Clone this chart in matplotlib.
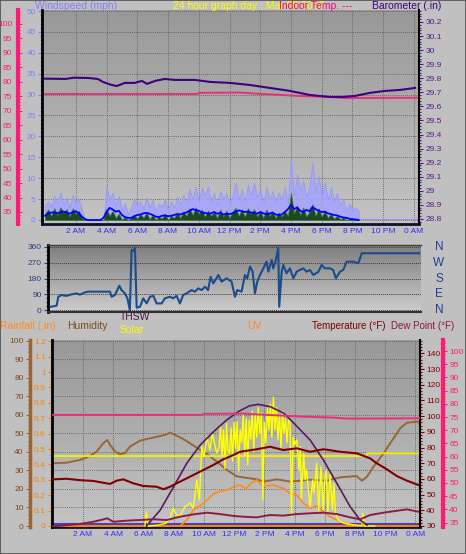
import numpy as np
import matplotlib
matplotlib.use('Agg')
import matplotlib.pyplot as plt
from matplotlib.colors import LinearSegmentedColormap
from matplotlib.ticker import MultipleLocator, FixedLocator, FuncFormatter
import matplotlib.patches as mpatches

plt.rcParams.update({
    'font.family': ['Liberation Sans', 'DejaVu Sans'],
    'font.size': 6,
    'figure.facecolor': '#c0c0c0',
})

W_PX, H_PX = 466, 554

hour_ticks = [2, 4, 6, 8, 10, 12, 14, 16, 18, 20, 22, 24]
hour_labels = ['2 AM', '4 AM', '6 AM', '8 AM', '10 AM', '12 PM',
               '2 PM', '4 PM', '6 PM', '8 PM', '10 PM', '0 AM']

# ---- top panel: wind (mph), sampled every 12 min up to 20:24 ----
wind_t = np.round(np.arange(0, 20.5, 0.2), 1)
wind_hi = [3.5, 4.5, 3.2, 5.8, 4.0, 6.7, 3.8, 5.5, 3.0, 6.0, 4.2, 5.0, 2.5,
           0, 0, 0, 0, 0, 0, 0,
           7.8, 5.0, 6.5, 3.5, 5.8, 2.5, 4.0, 1.5, 3.0, 5.2, 3.5,
           4.5, 2.8, 5.5, 3.0, 4.8, 2.2, 4.0, 3.2, 5.0, 2.5, 4.5, 3.0, 5.5, 3.8, 6.0,
           4.0, 7.5, 5.0, 8.0, 4.5, 7.8, 6.0, 8.0, 4.5, 6.5, 3.5, 7.0, 5.0, 6.5, 4.0,
           6.0, 9.0, 5.0, 7.5, 4.5, 8.5, 6.0, 9.0, 5.5, 7.5, 4.0, 8.0, 5.0, 7.0, 4.5,
           6.5, 5.0, 8.0, 4.0, 14.6,
           6.0, 11.0, 7.0, 9.5, 5.5, 8.0, 13.6, 7.0, 10.5, 6.0, 9.0, 5.0, 8.0,
           4.5, 6.5, 3.5, 5.0, 2.5, 4.0, 2.5, 3.0, 2.2]
wind_avg = [1.0, 1.5, 1.8, 1.8, 1.6, 1.9, 2.0, 1.8, 1.5, 1.9, 2.1, 1.6, 0.8,
            0.2, 0, 0, 0, 0, 0, 0.5,
            2.0, 2.9, 2.5, 2.0, 2.2, 1.2, 0.7, 0.5, 0.5, 0.9, 1.2,
            1.3, 1.6, 1.7, 1.5, 1.2, 0.8, 0.7, 1.0, 1.1, 0.9, 1.0, 1.2, 1.4, 1.3, 1.6,
            1.8, 2.2, 2.6, 2.4, 2.2, 1.8, 1.7, 1.5, 1.6, 1.9, 1.5, 1.7, 1.3, 1.5, 1.4,
            1.6, 2.0, 2.3, 2.1, 1.9, 2.0, 1.8, 1.7, 1.5, 1.9, 1.6, 1.4, 1.5, 1.8, 1.3,
            1.2, 1.3, 1.9, 2.6, 3.6,
            2.6, 3.0, 2.2, 1.9, 2.4, 2.1, 3.1, 2.6, 2.2, 1.9, 2.0, 1.6, 1.4,
            1.2, 1.1, 0.8, 0.6, 0.5, 0.3, 0.2, 0.1, 0.0]
wind_now = [1.5, 2.5, 1.0, 2.8, 1.2, 3.0, 1.8, 2.6, 0.8, 2.8, 1.5, 2.2, 0.5,
            0, 0, 0, 0, 0, 0, 0,
            2.6, 1.0, 2.2, 0.5, 1.5, 0.0, 0.8, 0.0, 0.5, 1.2, 0.3,
            1.5, 0.5, 1.8, 0.2, 1.2, 0.0, 0.8, 0.3, 1.5, 0.0, 1.0, 0.5, 1.8, 0.5, 2.0,
            1.0, 2.8, 1.2, 3.0, 1.5, 2.5, 0.8, 2.2, 1.0, 2.0, 0.5, 2.5, 0.8, 2.2, 0.5,
            2.0, 2.9, 1.0, 2.5, 0.8, 2.8, 1.5, 2.6, 0.8, 2.2, 0.5, 2.5, 1.0, 2.0, 0.5,
            1.8, 0.8, 2.2, 1.0, 6.5,
            1.5, 3.5, 1.2, 3.0, 0.8, 2.0, 3.8, 1.0, 2.8, 0.8, 2.2, 0.5, 1.5,
            0.3, 1.0, 0.2, 0.5, 0.0, 0.2, 0, 0, 0]
calm_t = [20.4, 24.3]
calm_hi = [0.3, 0.3]

baro_t = [0, 1.35, 1.87, 2.78, 3.43, 3.76, 4.34, 4.67, 5.19, 5.84, 6.30, 6.63, 7.16,
          7.79, 8.44, 9.75, 10.72, 12.02, 13.33, 14.63, 15.93, 17.23, 18.53, 19.38,
          20.16, 21.14, 22.12, 23.09, 24.07]
baro = [29.797, 29.795, 29.804, 29.802, 29.795, 29.774, 29.752, 29.745, 29.767,
        29.767, 29.781, 29.760, 29.781, 29.795, 29.788, 29.788, 29.774, 29.767,
        29.752, 29.731, 29.710, 29.681, 29.667, 29.667, 29.674, 29.696, 29.710,
        29.717, 29.731]

indoor_t = [0, 9.9, 10.0, 12.7, 13.5, 15.3, 16.6, 18.5, 19.5, 24.3]
indoor_temp = [75.8, 75.8, 76.2, 76.3, 76.0, 75.5, 75.1, 74.8, 74.4, 74.5]

# ---- middle panel: wind direction (deg) ----
dir_t = [0.37, 0.74, 0.85, 1.07, 1.39, 1.72, 2.04, 2.26, 2.58, 2.8, 4.21, 4.32, 4.54,
         4.82, 4.97, 5.19, 5.35, 5.51, 5.62, 5.75, 5.84, 5.95, 6.17, 6.38, 6.6, 6.82,
         7.04, 7.25, 7.58, 7.79, 8.12, 8.33, 8.55, 8.77, 8.98, 9.2, 9.53, 9.75, 9.96,
         10.18, 10.4, 10.6, 10.77, 10.94, 11.27, 11.48, 11.81, 12.13, 12.35, 12.5,
         12.78, 13.0, 13.15, 13.33, 13.5, 13.65, 13.8, 13.98, 14.2, 14.41, 14.52,
         14.74, 14.84, 15.01, 15.17, 15.23, 15.39, 15.5, 15.71, 15.93, 16.15, 16.37,
         16.58, 16.8, 17.01, 17.23, 17.45, 17.78, 18.0, 18.2, 18.53, 18.74, 18.92,
         19.19, 19.4, 19.62, 20.06, 20.38, 20.6, 24.35]
dir_deg = [19, 25, 76, 86, 81, 90, 95, 88, 101, 105, 105, 76, 86,
           139, 114, 95, 67, 0, 343, 337, 356, 13, 19, 67, 38, 76,
           81, 38, 38, 67, 76, 67, 81, 38, 86, 95, 114, 105, 124,
           114, 133, 114, 190, 152, 200, 162, 181, 162, 76, 114,
           105, 200, 181, 248, 219, 95, 162, 200, 238, 276, 219,
           286, 238, 286, 356, 19, 219, 257, 210, 238, 181, 219,
           229, 238, 219, 229, 200, 219, 257, 238, 238, 229, 181,
           219, 229, 276, 276, 267, 324, 324]
dir_ticks = [0, 90, 180, 270, 360]
compass = ['N', 'W', 'S', 'E', 'N']

# ---- bottom panel ----
hum_t = [0, 0.92, 1.8, 2.46, 2.9, 3.34, 3.61, 3.79, 4.12, 4.45, 4.78, 5.11, 5.77,
         6.44, 7.1, 7.54, 7.76, 8.09, 8.54, 9.09, 9.75, 10.3, 10.85, 11.52, 12.18,
         13.5, 13.94, 14.83, 15.7, 17.03, 18.14, 19.02, 20.1, 20.46, 20.79, 21.22,
         21.89, 22.55, 22.99, 23.43, 24.1, 24.3]
humidity = [33.9, 34.2, 35.7, 37.8, 40.2, 44.7, 46.5, 43.8, 40.2, 38.8, 39.5, 42.9,
            46.1, 47.4, 48.6, 49.5, 50.5, 49.2, 47.4, 44.7, 41.1, 38.4, 34.8, 30.3,
            26.8, 25.2, 24.0, 25.2, 24.0, 25.0, 24.5, 26.3, 27.0, 24.5, 26.6, 32.0,
            39.3, 47.4, 52.8, 55.8, 56.4, 55.8]

in_hum_t = [0, 20.75, 20.8, 24.3]
in_humidity = [37.8, 37.8, 39.3, 39.3]

temp_t = [0, 0.92, 1.8, 2.68, 3.79, 4.23, 4.67, 5.33, 5.99, 6.88, 7.32, 7.76, 8.2,
          8.87, 9.53, 9.97, 10.63, 11.29, 11.95, 12.4, 13.5, 14.38, 15.26, 16.15,
          17.03, 17.91, 19.02, 20.12, 21.0, 21.45, 22.11, 22.77, 23.43, 24.2]
temperature = [59.7, 60.1, 59.2, 58.7, 56.8, 58.9, 59.7, 57.2, 55.5, 55.0, 53.4,
               55.0, 57.2, 60.4, 63.6, 65.7, 68.9, 72.5, 75.2, 77.3, 78.9, 80.5,
               78.4, 79.5, 77.3, 78.9, 77.3, 76.3, 73.1, 69.9, 66.1, 61.8, 58.9, 56.1]

thsw_t = [6.2, 7.1, 8.0, 8.87, 9.75, 10.63, 11.5, 12.3, 13.0, 13.6, 14.4, 15.26,
          15.7, 16.15, 17.03, 17.91, 18.8, 19.68, 20.34, 20.79]
thsw = [30, 40, 55, 70, 81.5, 90, 97.5, 103, 106.5, 107.5, 106, 102, 98, 93.5,
        84.8, 72, 57.2, 42.3, 33.8, 30.6]

dew_t = [0, 0.9, 1.8, 2.68, 3.34, 3.61, 4.0, 4.89, 5.77, 6.66, 7.54, 8.42, 9.3, 10.2,
         11.07, 11.95, 12.62, 13.5, 14.38, 15.26, 16.15, 17.03, 17.91, 18.8, 19.68,
         20.34, 21.0, 21.89, 22.77, 23.43, 24.2]
dew_point = [29.8, 30.5, 31.3, 32.7, 34.2, 34.9, 32.7, 33.4, 33.8, 34.3, 33.8, 35.9,
             37.4, 38.5, 37.6, 36.4, 35.9, 35.5, 37.0, 36.6, 37.6, 38.1, 38.5, 37.6,
             35.5, 34.2, 37.0, 38.5, 39.7, 40.6, 39.1]

solar_t = [6.1, 6.2, 6.3, 7.0, 7.5, 7.76, 7.98, 8.1, 8.37, 8.75, 9.09, 9.3, 9.53, 9.7,
           9.86, 10.0, 10.2, 10.4, 10.55, 10.85,
           11.0, 11.1, 11.2, 11.3, 11.4, 11.5, 11.6, 11.7, 11.8, 11.9, 12.0, 12.1, 12.2,
           12.3, 12.4, 12.5, 12.6, 12.7, 12.8, 12.9, 13.0, 13.1, 13.2, 13.3, 13.4, 13.5,
           13.6, 13.7, 13.8, 13.9, 14.0, 14.1, 14.2, 14.3, 14.4, 14.5, 14.6, 14.7, 14.8,
           14.9, 15.0, 15.1, 15.2, 15.3, 15.4, 15.5, 15.6, 15.7, 15.8,
           15.9, 16.0, 16.15, 16.3, 16.37, 16.45, 16.6, 16.7, 16.8, 16.9, 17.03, 17.2,
           17.3, 17.46, 17.6, 17.75, 17.9, 18.0, 18.1, 18.2, 18.35, 18.5, 18.6, 18.7,
           18.9, 19.25, 19.9, 20.45, 20.52, 20.6, 21.3]
solar = [0, 76, 0, 5, 15, 43, 97, 70, 50, 104, 124, 97, 249, 140,
         429, 375, 483, 410, 500, 395,
         420, 540, 380, 520, 310, 555, 400, 393, 530, 350, 560, 420, 564,
         300, 520, 450, 600, 380, 580, 330, 570, 470, 620, 400, 600, 480,
         640, 500, 610, 140, 560, 450, 636, 520, 660, 480, 696, 520, 640,
         465, 600, 420, 620, 500, 580, 450, 573, 560, 50,
         480, 440, 465, 300, 429, 150, 393, 250, 303, 200, 104, 249,
         180, 339, 80, 320, 90, 250, 303, 69, 280, 90, 230, 69,
         32, 15, 5, 2, 69, 0, 0]

uv_t = [8.42, 8.87, 9.3, 9.75, 10.2, 10.63, 11.07, 11.52, 11.95, 12.4, 12.8, 13.1,
        13.5, 13.9, 14.6, 15.26, 15.7, 16.15, 16.6, 17.03, 17.45, 17.91, 18.36, 18.8,
        19.35, 20.0, 20.5]
uv = [0, 0.39, 1.04, 1.3, 1.69, 2.1, 2.25, 2.34, 2.55, 2.66, 2.4, 2.77, 2.99, 2.6,
      2.66, 2.45, 2.12, 2.0, 1.47, 1.15, 1.3, 0.93, 0.6, 0.39, 0.17, 0.06, 0]

rain_t = [0, 24.3]
rainfall = [0, 0]
rain_rate = [0.015, 0.015]


def place(x0, y0, x1, y1):
    return [x0 / W_PX, 1 - y1 / H_PX, (x1 - x0) / W_PX, (y1 - y0) / H_PX]


def shade(ax, top, bottom):
    cm = LinearSegmentedColormap.from_list('shade', [top, bottom])
    ax.imshow(np.linspace(0, 1, 128).reshape(-1, 1), cmap=cm, aspect='auto',
              extent=[0, 1, 0, 1], transform=ax.transAxes, zorder=-10,
              interpolation='bilinear')


def spines(ax, **kw):
    for side in ['left', 'right', 'top', 'bottom']:
        if side in kw:
            color, lw = kw[side]
            ax.spines[side].set_visible(True)
            ax.spines[side].set_color(color)
            ax.spines[side].set_linewidth(lw)
        else:
            ax.spines[side].set_visible(False)


def yticks(ax, major, minor, color, labelcolor=None, direction='out', pad=1.5):
    ax.yaxis.set_major_locator(FixedLocator(major))
    ax.yaxis.set_minor_locator(MultipleLocator(minor))
    ax.yaxis.set_major_formatter(FuncFormatter(lambda v, p: '%g' % round(v, 2)))
    ax.tick_params(axis='y', which='both', color=color, direction=direction,
                   labelcolor=labelcolor or color, labelsize=6, pad=pad, width=0.8)
    ax.tick_params(axis='y', which='major', length=3)
    ax.tick_params(axis='y', which='minor', length=1.5)


GRID = dict(color='#555555', ls=(0, (1, 1.5)), lw=0.6)

fig = plt.figure(figsize=(4.66, 5.54), dpi=100)

# ================= top panel =================
ax1 = fig.add_axes(place(42, 10, 419, 224))
shade(ax1, '#989898', '#c4c4c4')
ax1.fill_between(wind_t, wind_hi, color='#a3a3ff', edgecolor='#9090ff', lw=0.5,
                 alpha=0.85, zorder=2)
ax1.plot(calm_t, calm_hi, color='#9090ff', lw=0.8, zorder=2)
ax1.fill_between(wind_t, wind_now, color='#1c4a1c', edgecolor='#3a7a3a', lw=0.5, zorder=3)
ax1.plot(wind_t, wind_avg, color='#0000ff', lw=1.3, zorder=4)
ax1.set_xlim(-0.2, 24.33)
ax1.set_ylim(-0.96, 50.24)
ax1.set_xticks(hour_ticks)
ax1.set_xticklabels(hour_labels)
ax1.tick_params(axis='x', length=0, pad=3, labelcolor='#3030ff', labelsize=6)
yticks(ax1, list(range(0, 51, 5)), 1, '#8080ff')
ax1.grid(True, **GRID)
spines(ax1, left=('#000000', 2), bottom=('#101030', 2))

ax1t = ax1.twinx()
ax1t.plot(indoor_t, indoor_temp, color='#e8307a', lw=1.4)
ax1t.set_ylim(30.85, 104.84)
spines(ax1t, left=('#ff1a75', 3))
ax1t.spines['left'].set_position(('axes', -0.064))
ax1t.yaxis.set_ticks_position('left')
yticks(ax1t, list(range(35, 106, 5)), 1, '#ff1a75', direction='in', pad=4)

ax1b = ax1.twinx()
ax1b.plot(baro_t, baro, color='#400080', lw=1.5)
ax1b.set_ylim(28.764, 30.285)
spines(ax1b, right=('#000000', 1.5))
yticks(ax1b, list(np.round(np.arange(28.8, 30.25, 0.1), 1)), 0.02, '#5a1a8a')

# ================= middle panel =================
ax2 = fig.add_axes(place(48, 245, 421, 312))
shade(ax2, '#7e7e7e', '#cdcdcd')
ax2.plot(dir_t, dir_deg, color='#1a4c8c', lw=1.5)
ax2.set_xlim(0.18, 24.46)
ax2.set_ylim(-11, 371)
ax2.set_xticks([])
yticks(ax2, dir_ticks, 22.5, '#2a3f7a')
ax2.grid(True, axis='y', color='#4a3a3a', ls=(0, (1, 1)), lw=0.7)
spines(ax2, left=('#000000', 2), bottom=('#303030', 1.5), top=('#404040', 1))
for lab, d in zip(compass, dir_ticks[::-1]):
    ax2.text(1.048, d, lab, transform=ax2.get_yaxis_transform(), color='#1f3f8f',
             fontsize=8.5, ha='center', va='center')

# ================= bottom panel =================
ax3 = fig.add_axes(place(52, 340, 420, 527))
shade(ax3, '#989898', '#c4c4c4')
ax3.plot(hum_t, humidity, color='#996633', lw=1.4, zorder=3)
ax3.plot(in_hum_t, in_humidity, color='#f2f200', lw=1.3, zorder=3)
ax3.set_xlim(-0.05, 24.3)
ax3.set_ylim(-0.54, 100.5)
ax3.set_xticks(hour_ticks)
ax3.set_xticklabels(hour_labels)
ax3.tick_params(axis='x', length=0, pad=3, labelcolor='#3030ff', labelsize=6)
yticks(ax3, list(range(0, 101, 10)), 2, '#996633', labelcolor='#7a4a1a')
ax3.grid(True, **GRID)
spines(ax3, left=('#996633', 2.5), bottom=('#101030', 2))
ax3.spines['left'].set_position(('axes', -0.06))

ax3r = ax3.twinx()
ax3r.plot(rain_t, rain_rate, color='#4040c0', lw=1.5)
ax3r.plot(rain_t, rainfall, color='#ff8000', lw=1.5)
ax3r.set_ylim(-0.0065, 1.208)
spines(ax3r, left=('#000000', 2))
ax3r.yaxis.set_ticks_position('left')
yticks(ax3r, list(np.round(np.arange(0, 1.25, 0.1), 1)), 0.02, '#ff8000')

ax3u = ax3.twinx()
ax3u.plot(uv_t, uv, color='#ff8c1a', lw=1.2)
ax3u.set_ylim(-0.065, 12.08)
spines(ax3u)
ax3u.set_yticks([])

ax3s = ax3.twinx()
ax3s.plot(solar_t, solar, color='#ffff00', lw=1.0)
ax3s.set_ylim(-5.4, 1005)
spines(ax3s)
ax3s.set_yticks([])

ax3t = ax3.twinx()
ax3t.plot(thsw_t, thsw, color='#5a1a5e', lw=1.2)
ax3t.plot(dew_t, dew_point, color='#8b1c4a', lw=1.4)
ax3t.plot(temp_t, temperature, color='#800000', lw=1.5)
ax3t.set_ylim(29.36, 148.5)
spines(ax3t, right=('#000000', 1.5))
yticks(ax3t, list(range(30, 141, 10)), 2, '#800000')

ax3d = ax3.twinx()
ax3d.plot(indoor_t, indoor_temp, color='#e8307a', lw=1.4)
ax3d.set_ylim(33.3, 104.2)
spines(ax3d, right=('#ff1a75', 3))
ax3d.spines['right'].set_position(('axes', 1.0625))
yticks(ax3d, list(range(35, 106, 5)), 1, '#ff1a75')


# ================= header texts =================
def label(x, y, s, color, size=7.5):
    fig.text(x / W_PX, 1 - y / H_PX, s, color=color, fontsize=size, va='baseline')


label(35, 9, 'Windspeed (mph)', '#8080ff')
label(173, 9, '24 hour graph day : Mar 08 2026', '#ffff00')
label(279, 9, 'Indoor Temp. ---', '#ff0080')
label(372, 9, 'Barometer (.in)', '#400080')
label(0, 329, 'Rainfall (.in)', '#ff8c1a')
label(67, 329, 'Humidity', '#7a4a1a')
label(120, 320, 'THSW', '#4a1a4a')
label(120, 333, 'Solar', '#ffff00')
label(247, 329, 'UV', '#ff8c1a')
label(312, 329, 'Temperature (\u00b0F)', '#800000', 7)
label(391, 329, 'Dew Point (\u00b0F)', '#8b1a3a', 7)

fig.patches.append(mpatches.Rectangle((0, 0), 1, 1, transform=fig.transFigure,
                                      fill=False, edgecolor='#505050', lw=1.2))

fig.savefig('out.png', dpi=100)
